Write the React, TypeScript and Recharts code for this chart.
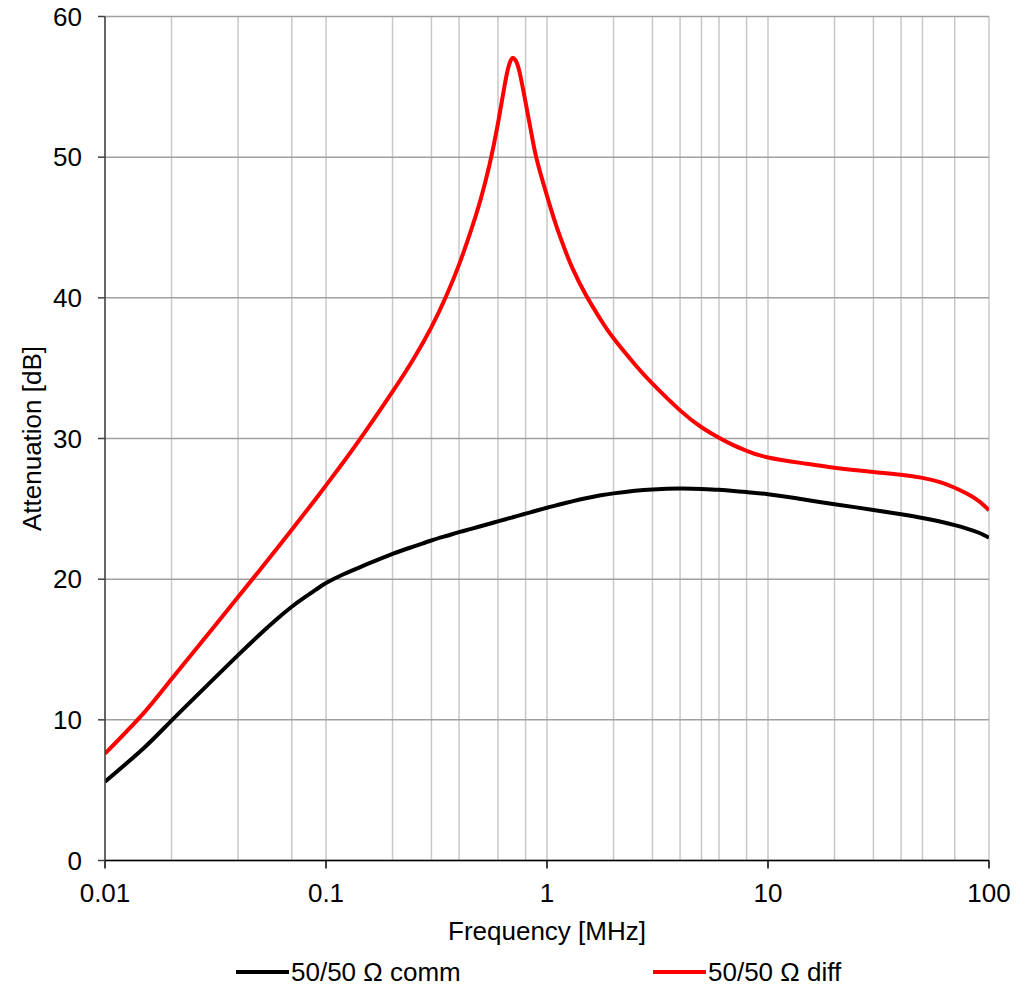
import React from 'react';
import { LineChart, Line, XAxis, YAxis, CartesianGrid, Legend } from 'recharts';

const frequencies = [
  0.01, 0.015, 0.02, 0.03, 0.04, 0.05, 0.06, 0.07, 0.08, 0.09,
  0.1, 0.12, 0.15, 0.2, 0.25, 0.3, 0.35, 0.4, 0.45, 0.5, 0.55,
  0.6, 0.65, 0.68, 0.7, 0.72, 0.75, 0.8, 0.85, 0.9, 1,
  1.1, 1.2, 1.3, 1.5, 1.75, 2, 2.5, 3, 4, 5,
  6, 7, 8, 10, 15, 20, 30, 40, 50, 60,
  70, 80, 90, 100,
];

const commValues = [
  5.6, 8.0, 9.95, 12.68, 14.6, 16.05, 17.17, 18.04, 18.7, 19.25,
  19.72, 20.35, 21.0, 21.8, 22.33, 22.75, 23.07, 23.34, 23.56, 23.76, 23.94,
  24.11, 24.26, 24.35, 24.4, 24.46, 24.54, 24.66, 24.77, 24.88, 25.08,
  25.25, 25.4, 25.53, 25.75, 25.96, 26.1, 26.28, 26.38, 26.44, 26.41,
  26.35, 26.27, 26.19, 26.03, 25.63, 25.33, 24.92, 24.61, 24.35, 24.1,
  23.84, 23.58, 23.3, 22.95,
];

const diffValues = [
  7.6, 10.5, 12.9, 16.3, 18.73, 20.62, 22.18, 23.51, 24.68, 25.72,
  26.67, 28.33, 30.45, 33.33, 35.71, 37.92, 40.13, 42.36, 44.65, 46.95, 49.5,
  52.4, 55.5, 56.75, 57.05, 56.9, 56.1, 53.9, 51.7, 49.8, 47.25,
  45.15, 43.5, 42.15, 40.2, 38.45, 37.12, 35.26, 33.9, 32.0, 30.8,
  30.05, 29.51, 29.13, 28.65, 28.2, 27.92, 27.62, 27.42, 27.2, 26.9,
  26.5, 26.05, 25.55, 24.9,
];

const xTicks = [0.01, 0.1, 1, 10, 100];
const xTickLabels = ['0.01', '0.1', '1', '10', '100'];
const minorGridValues = [
  0.01, 0.02, 0.03, 0.04, 0.05, 0.06, 0.07, 0.08, 0.09,
  0.1, 0.2, 0.3, 0.4, 0.5, 0.6, 0.7, 0.8, 0.9,
  1, 2, 3, 4, 5, 6, 7, 8, 9,
  10, 20, 30, 40, 50, 60, 70, 80, 90, 100,
];
const yTicks = [0, 10, 20, 30, 40, 50, 60];

const seriesKeys = ['comm', 'diff'];
const seriesNames = ['50/50 Ω comm', '50/50 Ω diff'];
const seriesColors = ['#000000', '#ff0000'];

const data = frequencies.map((f, i) => ({ f, comm: commValues[i], diff: diffValues[i] }));

const FONT = '"Liberation Sans", Arial, sans-serif';
const legendLineStart = [236, 653];

const renderLegend = () => (
  <svg width={1033} height={40} style={{ display: 'block' }}>
    {seriesNames.map((name, i) => (
      <g key={name}>
        <line
          x1={legendLineStart[i]}
          x2={legendLineStart[i] + 53}
          y1={25}
          y2={25}
          stroke={seriesColors[i]}
          strokeWidth={4}
        />
        <text x={legendLineStart[i] + 55} y={34} fontSize={26} fontFamily={FONT} fill="#000">
          {name}
        </text>
      </g>
    ))}
  </svg>
);

export default function App() {
  return (
    <div style={{ position: 'absolute', left: 0, top: 0, width: 1033, height: 987, background: '#fff' }}>
      <LineChart
        width={1033}
        height={987}
        data={data}
        margin={{ top: 16.5, right: 44, left: 0, bottom: 0 }}
        style={{ fontFamily: FONT }}
      >
        <CartesianGrid xAxisId="minor" horizontal={false} stroke="#c8c8c8" strokeWidth={1.5} />
        <CartesianGrid vertical={false} stroke="#a0a0a0" strokeWidth={1.5} />
        <XAxis
          xAxisId="minor"
          dataKey="f"
          type="number"
          scale="log"
          domain={[0.01, 100]}
          ticks={minorGridValues}
          allowDataOverflow
          hide
        />
        <XAxis
          dataKey="f"
          type="number"
          scale="log"
          domain={[0.01, 100]}
          ticks={xTicks}
          allowDataOverflow
          height={86.5}
          tickSize={8}
          tickMargin={15}
          stroke="#000"
          strokeWidth={1.5}
          tick={{ fill: '#000', fontSize: 26, fontFamily: FONT }}
          tickFormatter={(v: number) => {
            const idx = xTicks.indexOf(v);
            return idx >= 0 ? xTickLabels[idx] : String(v);
          }}
          label={{ value: 'Frequency [MHz]', position: 'insideBottom', offset: 7, fill: '#000', fontSize: 26, fontFamily: FONT }}
        />
        <YAxis
          type="number"
          domain={[0, 60]}
          ticks={yTicks}
          width={105}
          tickSize={7}
          tickMargin={16}
          stroke="#404040"
          strokeWidth={1.5}
          tick={{ fill: '#000', fontSize: 26, fontFamily: FONT }}
          label={{
            value: 'Attenuation [dB]',
            angle: -90,
            position: 'insideLeft',
            offset: 32,
            fill: '#000',
            fontSize: 26,
            fontFamily: FONT,
            style: { textAnchor: 'middle' },
          }}
        />
        <Legend verticalAlign="bottom" content={renderLegend} />
        {seriesKeys.map((k, i) => (
          <Line
            key={k}
            dataKey={k}
            name={seriesNames[i]}
            type="natural"
            stroke={seriesColors[i]}
            strokeWidth={4}
            dot={false}
            activeDot={false}
            isAnimationActive={false}
          />
        ))}
      </LineChart>
    </div>
  );
}
